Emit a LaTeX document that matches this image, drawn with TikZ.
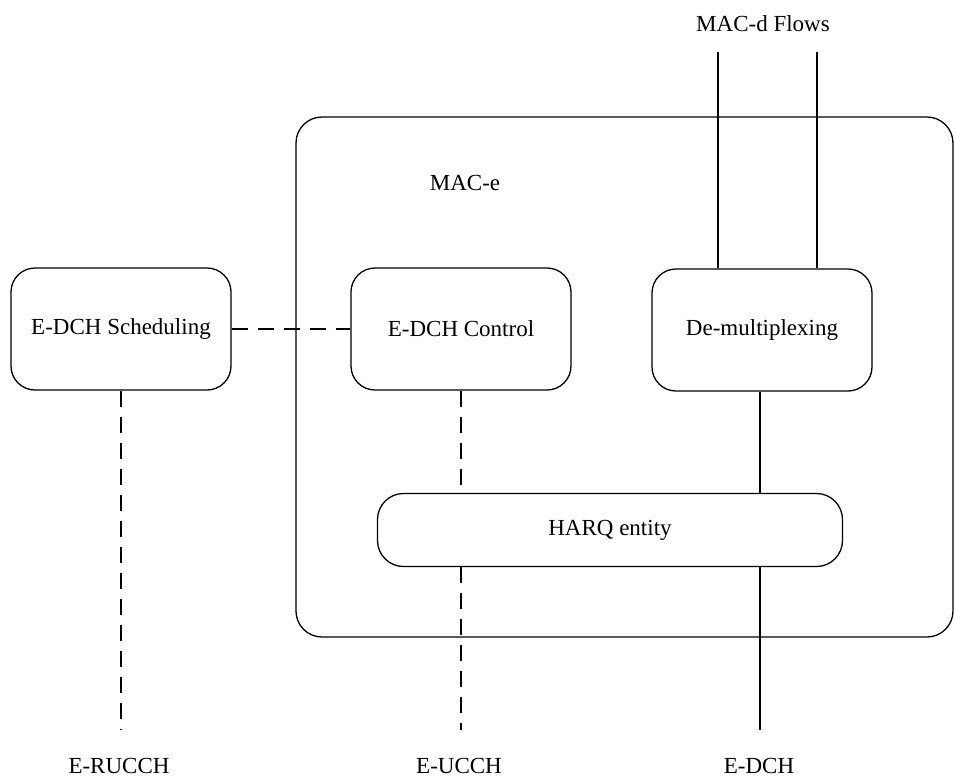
\documentclass[tikz,border=0pt]{standalone}
\usepackage{fontspec}
\setmainfont{Liberation Serif}
\usetikzlibrary{positioning}
\tikzset{
  macblock/.style={draw, rounded corners=12pt, line width=0.65pt, minimum width=110pt, minimum height=61pt, inner sep=0pt},
  harqblock/.style={draw, rounded corners=13pt, line width=0.65pt, minimum width=232.5pt, minimum height=36.5pt, inner sep=0pt},
  ctrlline/.style={line width=1.4pt, dash pattern=on 8pt off 5pt},
  dataline/.style={line width=1.2pt},
}

\begin{document}
\begin{tikzpicture}[x=0.5pt, y=-0.5pt, font=\fontsize{11.5}{14}\selectfont]
    \useasboundingbox (0,0) rectangle (955,778);

    % MAC-e entity
    \draw[line width=0.65pt, rounded corners=13pt] (296,117) rectangle (953,637);
    \node (mace) at (465,183) {MAC-e};

    % Blocks
    \node[macblock] (sched) at (121,329) {E-DCH Scheduling};
    \node[macblock] (ctrl) at (461,329) {E-DCH Control};
    \node[macblock] (demux) at (762,330) {De-multiplexing};
    \node[harqblock] (harq) at (610,530) {HARQ entity};

    % MAC-d flows
    \node (flows) at (763,24) {MAC-d Flows};
    \coordinate (flowA) at (718,52);
    \coordinate (flowB) at (817,52);
    \draw[dataline] (flowA) -- (flowA |- demux.north);
    \draw[dataline] (flowB) -- (flowB |- demux.north);

    % Transport channels
    \node (erucch) at (119,766) {E-RUCCH};
    \node (eucch) at (459,766) {E-UCCH};
    \node (edch) at (759,766) {E-DCH};
    \coordinate (erucchEnd) at (121,730);
    \coordinate (eucchEnd) at (461,730);
    \coordinate (edchEnd) at (760,730);

    % Connections
    \draw[ctrlline] (sched.east) -- (ctrl.west);
    \draw[ctrlline] (sched.south) -- (erucchEnd);
    \draw[ctrlline] (ctrl.south) -- (ctrl.south |- harq.north);
    \draw[ctrlline] (harq.south -| eucchEnd) -- (eucchEnd);
    \draw[dataline] (demux.south -| edchEnd) -- (harq.north -| edchEnd);
    \draw[dataline] (harq.south -| edchEnd) -- (edchEnd);

\end{tikzpicture}
\end{document}
